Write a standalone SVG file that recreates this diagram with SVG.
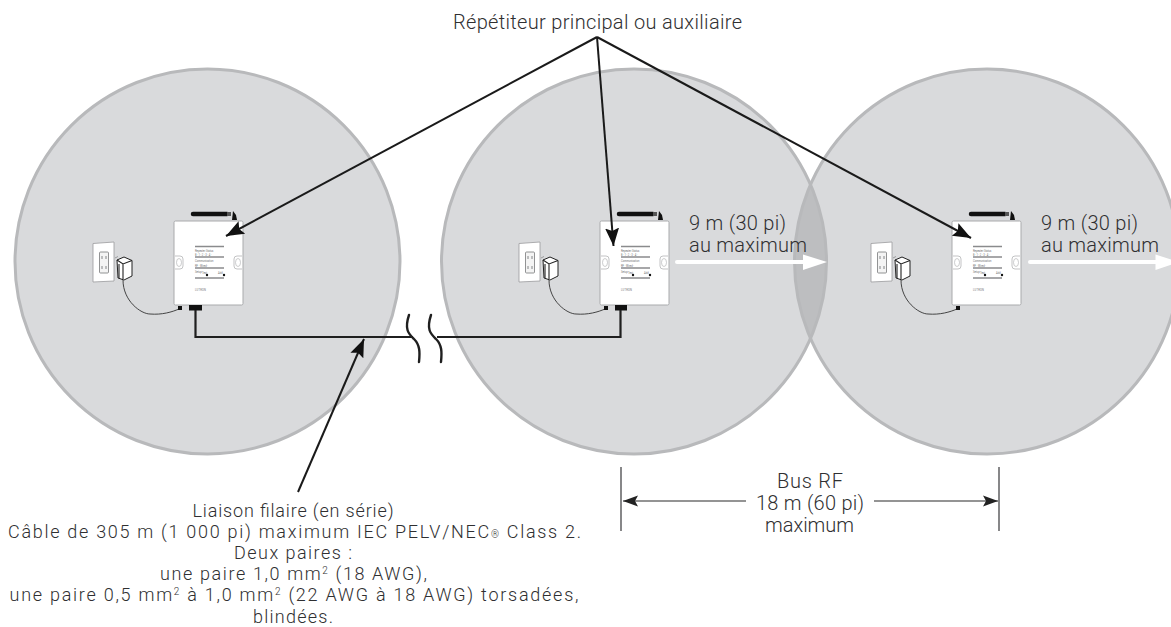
<svg xmlns="http://www.w3.org/2000/svg" width="1171" height="627" viewBox="0 0 1171 627">
<style>
text{font-family:Roboto,"Liberation Sans",Arial,sans-serif;font-weight:300;fill:#2f2f31}
.t{font-size:20px}
.s{font-size:18px}
.zone{fill:#d9dadc}
.ring{fill:none;stroke:#b8b9bb;stroke-width:3}
.box{fill:#fff;stroke:#a9aaac;stroke-width:1}
.bar{stroke:#8a8b8d;stroke-width:1.3;fill:none}
.mini{font-size:2.6px;fill:#6f7072;font-weight:400}
.blk{fill:#111}
.cord{fill:none;stroke:#333;stroke-width:.9}
.arr{fill:none;stroke:#1a1a1a;stroke-width:2;marker-end:url(#ah)}
.dim{fill:none;stroke:#2a2a2a;stroke-width:1.2}
.tick{stroke:#6a6a6c;stroke-width:1.6}
.cable{fill:none;stroke:#1f1f1f;stroke-width:2.2}
.brk{fill:none;stroke:#1f1f1f;stroke-width:2.400;stroke-linecap:round}
.wa{stroke:#fff;stroke-width:4;stroke-linecap:round}
</style>
<defs>
<clipPath id="c2"><circle cx="634" cy="261.500" r="192.500"/></clipPath>
<marker id="ah" markerUnits="userSpaceOnUse" markerWidth="20" markerHeight="16" refX="18" refY="8" orient="auto"><path d="M0 1 L18 8 L0 15 L3 8 Z" fill="#111"/></marker>
<marker id="dh" markerUnits="userSpaceOnUse" markerWidth="16" markerHeight="12" refX="15" refY="6" orient="auto"><path d="M0 .5 L15 6 L0 11.500 L3 6 Z" fill="#222"/></marker>
<g id="rep">
<path d="M-81 22.500 L-60 21 V60 L-81 61 Z" fill="#fff" stroke="#9a9b9d" stroke-width=".8"/>
<rect x="-74.500" y="31" width="9" height="21" rx="1" fill="#f4f4f4" stroke="#77787a" stroke-width=".8"/>
<path d="M-72 35 V38 M-68 35 V38 M-72 45 V48 M-68 45 V48" stroke="#77787a" stroke-width=".9"/>
<path d="M-57 39 L-50 36 L-42 39.500 V55 L-50 59 L-56 57 Z" fill="#fff" stroke="#222" stroke-width="1"/>
<path d="M-57 39 L-51 43 L-42 39.500 M-51 43 V58 M-55 43 V57" fill="none" stroke="#222" stroke-width="1.100"/>
<path d="M-59 37 L-56 35.500" stroke="#8a8b8d" stroke-width=".8"/>
<path d="M-51 59 C-51 80 -33 93 -24 93 C-12 94 -2 91 5 88" class="cord"/>
<path d="M4 85 H8 V89 H4 Z" class="blk"/>
<path d="M19 -7 H53" stroke="#111" stroke-width="4.500" stroke-linecap="round"/>
<rect x="53" y="-9" width="4" height="4" fill="#555"/>
<path d="M59 -10 L62 -6 L63 -1 L58 -1 Z" class="blk"/>
<rect x="0" y="0" width="69" height="84" rx="1.500" class="box"/>
<path d="M1 35 H6 Q9 35 9 38 V45 Q9 48 6 48 H1 M68 35 H63 Q60 35 60 38 V45 Q60 48 63 48 H68" fill="none" stroke="#a9aaac" stroke-width=".7"/>
<ellipse cx="5" cy="41.500" rx="2.500" ry="4" fill="none" stroke="#b5b6b8" stroke-width=".7"/>
<ellipse cx="64" cy="41.500" rx="2.500" ry="4" fill="none" stroke="#b5b6b8" stroke-width=".7"/>
<path d="M21 25.500 H50 M21 36 H50 M21 47 H50 M21 57 H50" class="bar"/>
<text x="21" y="30.500" class="mini">Repeater Status</text>
<text x="21" y="34.500" class="mini">8 · 1 · 2 · 3 · 4 ·</text>
<text x="21" y="41" class="mini">Communication</text>
<text x="21" y="45.500" class="mini">RF ·    Wired ·</text>
<text x="21" y="51.500" class="mini">Setup</text>
<text x="28" y="53" class="mini">Test</text>
<text x="44" y="53" class="mini">Add</text>
<circle cx="33" cy="54" r="1.200" class="blk"/>
<circle cx="50" cy="54" r="1.200" class="blk"/>
<text x="21" y="70" class="mini" style="letter-spacing:.2px">LUTRON</text>
</g>
</defs>
<g id="zones">
<circle cx="207.500" cy="261.500" r="192.500" class="zone"/>
<circle cx="634" cy="261.500" r="192.500" class="zone"/>
<circle cx="987" cy="261.500" r="192.500" class="zone"/>
<circle cx="987" cy="261.500" r="192.500" fill="#bdbec0" clip-path="url(#c2)"/>
<circle cx="207.500" cy="261.500" r="192.500" class="ring"/>
<circle cx="634" cy="261.500" r="192.500" class="ring"/>
<circle cx="987" cy="261.500" r="192.500" class="ring"/>
</g>
<g id="repeater-1" transform="translate(174 221)"><use href="#rep"/></g>
<g id="repeater-2" transform="translate(600 221)"><use href="#rep"/></g>
<g id="repeater-3" transform="translate(952 221)"><use href="#rep"/></g>
<rect x="189" y="305" width="13" height="5.500" class="blk"/>
<rect x="615" y="305" width="12" height="5.500" class="blk"/>
<g id="connectors">
<path d="M195.500 310 V337 H413" class="cable"/>
<path d="M437 337 H620.500 V310" class="cable"/>
<path d="M409 315 C404 330 409 334 414 339 C420 345 420 352 419 362" class="brk"/>
<path d="M431 315 C426 330 431 334 436 339 C442 345 442 352 441 362" class="brk"/>
<path d="M597 37 L226 236" class="arr"/>
<path d="M597 37 L613.500 246" class="arr"/>
<path d="M597 37 L971 238" class="arr"/>
<path d="M298 492 L364 339" class="arr"/>
<path d="M677 262 H805" class="wa"/>
<path d="M803 254.500 L827 262 L803 270 Z" fill="#fff"/>
<path d="M1030 262 H1158" class="wa"/>
<path d="M1155.500 254.500 L1179 262 L1155.500 270 Z" fill="#fff"/>
<path d="M746 501 H623" class="dim" marker-end="url(#dh)"/>
<path d="M874 501 H998" class="dim" marker-end="url(#dh)"/>
<path d="M621 467 V531 M999 467 V531" class="tick"/>
</g>
<g id="labels">
<text x="453" y="29" class="t" textLength="289">Répétiteur principal ou auxiliaire</text>
<text x="689" y="230" class="t" textLength="97">9 m (30 pi)</text>
<text x="689" y="252" class="t" textLength="118">au maximum</text>
<text x="1041" y="230" class="t" textLength="97">9 m (30 pi)</text>
<text x="1041" y="252" class="t" textLength="118">au maximum</text>
<text x="777" y="488" class="t" textLength="66">Bus RF</text>
<text x="756" y="510" class="t" textLength="108">18 m (60 pi)</text>
<text x="765" y="532" class="t" textLength="89">maximum</text>
<text x="192.500" y="517" class="s" textLength="201">Liaison filaire (en série)</text>
<text x="8" y="538.100" class="s" textLength="573">Câble de 305 m (1 000 pi) maximum IEC PELV/NEC<tspan font-size="10">®</tspan> Class 2.</text>
<text x="234" y="559.200" class="s" textLength="118">Deux paires :</text>
<text x="160" y="580.300" class="s" textLength="267">une paire 1,0 mm<tspan font-size="10" dy="-6">2</tspan><tspan dy="6"> (18 AWG),</tspan></text>
<text x="9.500" y="601.400" class="s" textLength="569">une paire 0,5 mm<tspan font-size="10" dy="-6">2</tspan><tspan dy="6"> à 1,0 mm</tspan><tspan font-size="10" dy="-6">2</tspan><tspan dy="6"> (22 AWG à 18 AWG) torsadées,</tspan></text>
<text x="253" y="622.500" class="s" textLength="80">blindées.</text>
</g>
</svg>
